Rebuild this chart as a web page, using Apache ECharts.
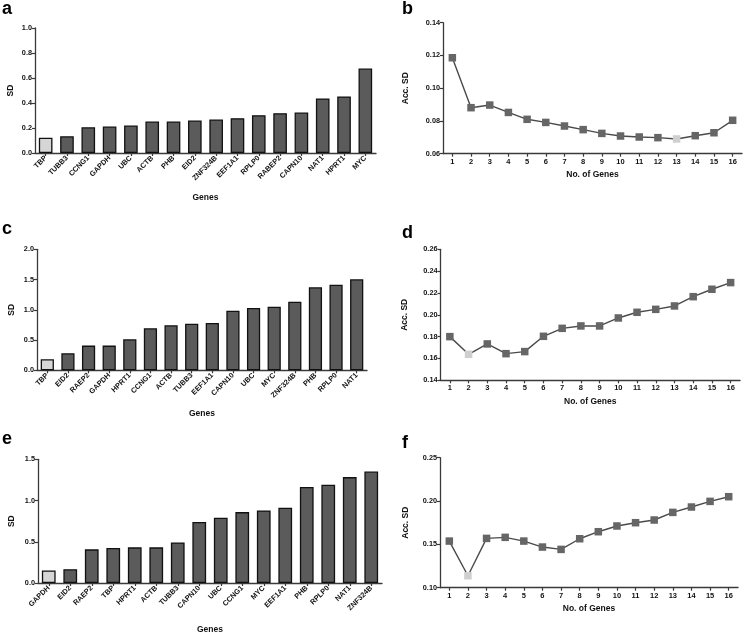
<!DOCTYPE html>
<html><head><meta charset="utf-8">
<script src="https://cdn.jsdelivr.net/npm/echarts@6/dist/echarts.min.js"></script>
<style>html,body{margin:0;padding:0;background:#fff}#c{width:746px;height:635px}</style>
</head><body><div id="c"></div>
<script>
// Panel a
const genesA = ['TBP','TUBB3','CCNG1','GAPDH','UBC','ACTB','PHB','EID2','ZNF324B','EEF1A1','RPLP0','RABEP2','CAPN10','NAT1','HPRT1','MYC'];
const sdA = [0.123,0.134,0.206,0.212,0.220,0.252,0.252,0.260,0.268,0.279,0.303,0.319,0.324,0.437,0.453,0.676];
// Panel b
const nGenes = ['1','2','3','4','5','6','7','8','9','10','11','12','13','14','15','16'];
const accB = [0.1186,0.0881,0.0897,0.0852,0.0810,0.0791,0.0769,0.0747,0.0724,0.0708,0.0702,0.0698,0.0690,0.0710,0.0728,0.0804];
// Panel c
const genesC = ['TBP','EID2','RAEP2','GAPDH','HPRT1','CCNG1','ACTB','TUBB3','EEF1A1','CAPN10','UBC','MYC','ZNF324B','PHB','RPLP0','NAT1'];
const sdC = [0.182,0.281,0.408,0.408,0.512,0.694,0.744,0.771,0.782,0.986,1.030,1.052,1.135,1.372,1.416,1.504];
// Panel d
const accD = [0.1800,0.1638,0.1733,0.1644,0.1663,0.1803,0.1876,0.1898,0.1898,0.1971,0.2023,0.2050,0.2081,0.2166,0.2234,0.2295];
// Panel e
const genesE = ['GAPDH','EID2','RAEP2','TBP','HPRT1','ACTB','TUBB3','CAPN10','UBC','CCNG1','MYC','EEF1A1','PHB','RPLP0','NAT1','ZNF324B'];
const sdE = [0.152,0.168,0.408,0.424,0.432,0.432,0.492,0.740,0.792,0.860,0.880,0.912,1.164,1.192,1.284,1.352];
// Panel f
const accF = [0.1538,0.1138,0.1569,0.1581,0.1538,0.1469,0.1442,0.1565,0.1646,0.1712,0.1750,0.1781,0.1869,0.1931,0.1996,0.2050];

const highlightA = 0, highlightB = 12, highlightC = 0, highlightD = 1, highlightE = 0, highlightF = 1;
const panelLetters = ['a','b','c','d','e','f'];

const FONT = 'Liberation Sans, Arial, sans-serif';
const DARK = '#5b5b5b', LIGHT = '#d6d6d6', AX = '#3a3a3a';

const grids = [
  {left:35, top:28, width:341, height:125},
  {left:443, top:22.7, width:299, height:131},
  {left:37, top:249.3, width:330, height:121},
  {left:440.5, top:249.3, width:299.5, height:131},
  {left:38, top:459.3, width:344, height:125},
  {left:440, top:457.7, width:298, height:130}
];

function axLine(){ return {show:true, lineStyle:{color:AX, width:1.3}}; }
function axTick(){ return {show:true, length:3, lineStyle:{color:AX, width:1.2}}; }

function xCat(gi, data, isGenes, nameGap){
  return {
    type:'category', gridIndex:gi, data:data, boundaryGap:true,
    axisLine:axLine(), axisTick:Object.assign(axTick(), {alignWithLabel:true}),
    axisLabel:{color:'#111', fontFamily:FONT, fontWeight:'bold', fontSize:isGenes?7.3:7.5, rotate:isGenes?45:0, margin:4, interval:0},
    name:isGenes?'Genes':'No. of Genes', nameLocation:'middle', nameGap:nameGap,
    nameTextStyle:{color:'#111', fontFamily:FONT, fontWeight:'bold', fontSize:8.5}
  };
}
function yVal(gi, min, max, interval, dec, name, nameGap){
  return {
    type:'value', gridIndex:gi, min:min, max:max, interval:interval,
    splitLine:{show:false}, axisLine:axLine(), axisTick:axTick(),
    axisLabel:{color:'#111', fontFamily:FONT, fontWeight:'bold', fontSize:7.3, margin:3, formatter:v=>v.toFixed(dec)},
    name:name, nameLocation:'middle', nameRotate:90, nameGap:nameGap,
    nameTextStyle:{color:'#111', fontFamily:FONT, fontWeight:'bold', fontSize:8.5}
  };
}
function barSeries(i, vals, hl){
  return {
    type:'bar', xAxisIndex:i, yAxisIndex:i, barCategoryGap:'36%',
    itemStyle:{color:DARK, borderColor:'#111', borderWidth:1.3},
    data:vals.map((v,k)=> k===hl ? {value:v, itemStyle:{color:LIGHT}} : v),
    animation:false
  };
}
function lineSeries(i, vals, hl){
  return {
    type:'line', xAxisIndex:i, yAxisIndex:i, symbol:'rect', symbolSize:7.5,
    lineStyle:{color:'#4a4a4a', width:1.4},
    itemStyle:{color:'#666', borderWidth:0},
    data:vals.map((v,k)=> k===hl ? {value:v, itemStyle:{color:'#cfcfcf'}} : v),
    animation:false, z:3
  };
}

const letterPos = [[2,14],[402,14],[2,234],[402,238],[2,444],[402,448]];

const option = {
  backgroundColor:'#fff',
  animation:false,
  grid:grids,
  xAxis:[
    xCat(0, genesA, true, 40),
    xCat(1, nGenes, false, 16),
    xCat(2, genesC, true, 39),
    xCat(3, nGenes, false, 17),
    xCat(4, genesE, true, 42),
    xCat(5, nGenes, false, 16)
  ],
  yAxis:[
    yVal(0, 0, 1.0, 0.2, 1, 'SD', 20),
    yVal(1, 0.06, 0.14, 0.02, 2, 'Acc. SD', 33),
    yVal(2, 0, 2.0, 0.5, 1, 'SD', 21),
    yVal(3, 0.14, 0.26, 0.02, 2, 'Acc. SD', 31),
    yVal(4, 0, 1.5, 0.5, 1, 'SD', 22),
    yVal(5, 0.10, 0.25, 0.05, 2, 'Acc. SD', 30)
  ],
  series:[
    barSeries(0, sdA, highlightA),
    lineSeries(1, accB, highlightB),
    barSeries(2, sdC, highlightC),
    lineSeries(3, accD, highlightD),
    barSeries(4, sdE, highlightE),
    lineSeries(5, accF, highlightF)
  ],
  graphic: panelLetters.map((t,i)=>({
    type:'text', left:letterPos[i][0], top:letterPos[i][1]-14,
    style:{text:t, fill:'#000', font:'bold 18px '+FONT}
  }))
};
const chart = echarts.init(document.getElementById('c'), null, {renderer:'canvas'});
chart.setOption(option);
</script>
</body></html>
